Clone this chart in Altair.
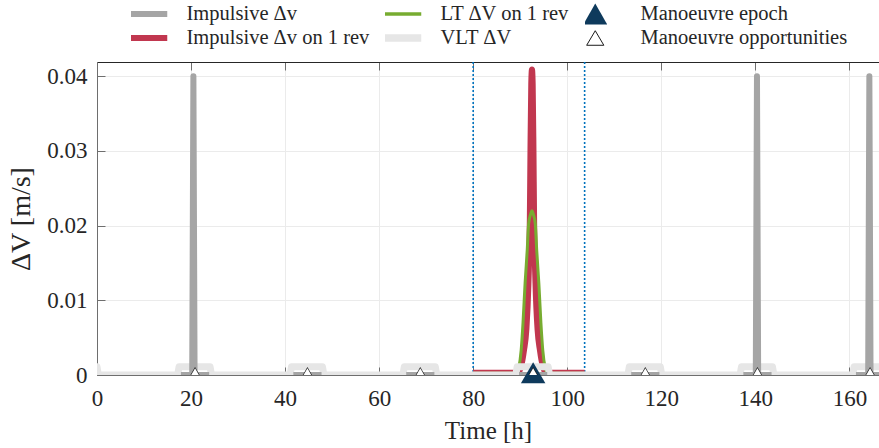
import altair as alt
import pandas as pd

# ---------------- data ----------------
series_names = ["Impulsive Δv", "Impulsive Δv on 1 rev", "LT ΔV on 1 rev", "VLT ΔV",
                "Manoeuvre epoch", "Manoeuvre opportunities"]
series_colors = ["#A5A5A5", "#C1374F", "#77AC30", "#E6E6E6", "#0E3A5C", "#FFFFFF"]

x_ticks = [0, 20, 40, 60, 80, 100, 120, 140, 160]
y_ticks = [0, 0.01, 0.02, 0.03, 0.04]

opp_t = [20.85, 44.75, 68.75, 92.75, 116.6, 140.45, 164.4]
opp_v = [0.0003, 0.0003, 0.0003, 0.0003, 0.0003, 0.0003, 0.0003]
epoch_t = [92.75]
epoch_v = [0.0003]

window_t = [80.0, 103.7]

vlt_t = [0.0, 0.3,
         17.15, 17.45, 24.05, 24.35,
         41.05, 41.35, 47.95, 48.25,
         65.05, 65.35, 71.95, 72.25,
         89.05, 89.35, 95.95, 96.25,
         112.9, 113.2, 119.8, 120.1,
         136.75, 137.05, 143.65, 143.95,
         160.7, 161.0, 166.3]
vlt_v = [0.0011, 0.0,
         0.0, 0.0011, 0.0011, 0.0,
         0.0, 0.0011, 0.0011, 0.0,
         0.0, 0.0011, 0.0011, 0.0,
         0.0, 0.0011, 0.0011, 0.0,
         0.0, 0.0011, 0.0011, 0.0,
         0.0, 0.0011, 0.0011, 0.0,
         0.0, 0.0011, 0.0011]

imp_seg = [1, 1, 1, 1, 1, 2, 2, 3, 3, 4, 4, 5, 5, 6, 6, 6, 6, 6, 7, 7, 7, 7, 7]
imp_t = [17.85, 20.25, 20.5, 20.75, 23.85,
         41.75, 47.75,
         65.75, 71.75,
         89.75, 95.75,
         113.6, 119.6,
         137.45, 140.1, 140.35, 140.6, 143.45,
         161.4, 164.0, 164.25, 164.5, 167.4]
imp_v = [0.0, 0.0, 0.0400, 0.0, 0.0,
         0.0, 0.0,
         0.0, 0.0,
         0.0, 0.0,
         0.0, 0.0,
         0.0, 0.0, 0.0400, 0.0, 0.0,
         0.0, 0.0, 0.0400, 0.0, 0.0]

red_t = [80.0, 86.0, 89.5, 90.2, 90.8, 91.3, 91.75, 92.05, 92.18, 92.35, 92.5,
         92.65, 92.82, 92.95, 93.25, 93.7, 94.2, 94.8, 95.5, 99.0, 103.7]
red_v = [0.0003, 0.0003, 0.0003, 0.0012, 0.0033, 0.006, 0.0123, 0.021, 0.030, 0.039, 0.0409,
         0.039, 0.030, 0.021, 0.0123, 0.006, 0.0033, 0.0012, 0.0003, 0.0003, 0.0003]

green_t = [80.0, 86.0, 89.2, 89.7, 90.2, 90.6, 91.04, 91.5, 91.8, 92.2, 92.5,
           92.8, 93.2, 93.5, 93.96, 94.4, 94.8, 95.3, 95.8, 99.0, 103.7]
green_v = [0.00025, 0.00025, 0.00025, 0.001, 0.0033, 0.007, 0.0123, 0.0168, 0.0203, 0.0215, 0.022,
           0.0215, 0.0203, 0.0168, 0.0123, 0.007, 0.0033, 0.001, 0.00025, 0.00025, 0.00025]

# ---------------- tables ----------------
df_vlt = pd.DataFrame({"t": vlt_t, "v": vlt_v})
df_imp = pd.DataFrame({"t": imp_t, "v": imp_v, "seg": imp_seg})
df_red = pd.DataFrame({"t": red_t, "v": red_v})
df_green = pd.DataFrame({"t": green_t, "v": green_v})
df_opp = pd.DataFrame({"t": opp_t, "v": opp_v, "series": series_names[5]})
df_epoch = pd.DataFrame({"t": epoch_t, "v": epoch_v, "series": series_names[4]})
df_win = pd.DataFrame({"t": window_t})

FONT = "Liberation Serif"
TXT = "#262626"
NEG_TICK = {"expr": "-8"}

x_scale = alt.Scale(domain=[0, 166.3], nice=False, zero=False)
y_scale = alt.Scale(domain=[0, 0.0419], nice=False, zero=False)

x_axis = alt.Axis(values=x_ticks, title="Time [h]", grid=True, format="d", labelFlush=False,
                  tickSize=NEG_TICK, labelPadding=20, titlePadding=8,
                  domain=True, labelFontSize=23, titleFontSize=25)
y_axis = alt.Axis(values=y_ticks, title="ΔV [m/s]", grid=True, labelFlush=False,
                  labelExpr="datum.value == 0 ? '0' : format(datum.value, '.2f')",
                  tickSize=NEG_TICK, labelPadding=18, titlePadding=11,
                  domain=True, labelFontSize=23, titleFontSize=28)

x_enc = alt.X("t:Q", scale=x_scale, axis=x_axis)
y_enc = alt.Y("v:Q", scale=y_scale, axis=y_axis)


def ternary(mapping, default):
    expr = default
    for name, val in reversed(mapping):
        expr = f"datum.value == '{name}' ? {val} : ({expr})"
    return expr


# legend symbols: lines for the curves, triangles (with a full-width bounding box) for markers
tri_big = "'M-1,0M1,0M0,-0.4L-0.46,0.4L0.46,0.4Z'"
tri_small = "'M-1,0M1,0M0,-0.28L-0.33,0.28L0.33,0.28Z'"
shape_expr = ternary([(series_names[4], tri_big), (series_names[5], tri_small)], "'stroke'")
sw_expr = ternary([(series_names[0], "6"), (series_names[1], "6"), (series_names[2], "3.5"),
                   (series_names[3], "7.5"), (series_names[4], "0"), (series_names[5], "1")], "2")
stroke_expr = ternary([(n, f"'{c}'") for n, c in zip(series_names, series_colors)
                       if n != series_names[5]] + [(series_names[5], "'#1a1a1a'")], "'black'")

legend = alt.Legend(
    orient="none", legendX=34, legendY=-60, columns=3, columnPadding=15, rowPadding=-9,
    title=None, labelFont=FONT, labelFontSize=20.5, labelColor=TXT, labelLimit=400,
    labelOffset=35, clipHeight=24, padding=0, symbolOpacity=1, symbolSize=2704,
    symbolType={"expr": shape_expr},
    symbolStrokeWidth={"expr": sw_expr},
    symbolStrokeColor={"expr": stroke_expr},
)

color_enc = alt.Color("series:N", scale=alt.Scale(domain=series_names, range=series_colors),
                      legend=legend)

rules = alt.Chart(df_win).mark_rule(color="#0072BD", strokeWidth=1.6, strokeDash=[2, 2]).encode(
    x=x_enc)

red = alt.Chart(df_red).mark_line(color=series_colors[1], strokeWidth=6, interpolate="monotone",
                                  strokeJoin="round", clip=True).encode(x=x_enc, y=y_enc)
green = alt.Chart(df_green).mark_line(color=series_colors[2], strokeWidth=3,
                                      interpolate="monotone", strokeJoin="round",
                                      clip=True).encode(x=x_enc, y=y_enc)
vlt = alt.Chart(df_vlt).mark_line(color=series_colors[3], strokeWidth=7, strokeJoin="round",
                                  strokeCap="round", clip=True).encode(x=x_enc, y=y_enc)
imp = alt.Chart(df_imp).mark_line(color=series_colors[0], strokeWidth=6, strokeJoin="round",
                                  clip=True).encode(x=x_enc, y=y_enc, detail="seg:N")
epoch = alt.Chart(df_epoch).mark_point(shape="triangle-up", filled=True, size=600,
                                       opacity=1).encode(x=x_enc, y=y_enc, color=color_enc)
opps_edge = alt.Chart(df_opp).mark_point(shape="triangle-up", filled=True, color="#1a1a1a",
                                         size=175, opacity=1, clip=True).encode(x=x_enc, y=y_enc)
opps = alt.Chart(df_opp).mark_point(shape="triangle-up", filled=True, size=105, opacity=1,
                                    clip=True).encode(x=x_enc, y=y_enc, color=color_enc)

main = alt.layer(rules, red, green, vlt, imp, epoch, opps_edge, opps)

frame = alt.Chart(df_win).mark_point(opacity=0).encode(
    x=alt.X("t:Q", scale=x_scale,
            axis=alt.Axis(orient="top", values=x_ticks, labels=False, title=None, grid=False,
                          tickSize=NEG_TICK, domainColor="#262626")),
)

chart = alt.layer(main, frame).resolve_axis(x="independent").properties(
    width=782, height=313,
    padding={"left": 97, "top": 62, "right": 0, "bottom": 73},
    autosize=alt.AutoSizeParams(type="none"),
    background="white",
).configure_view(stroke=None).configure_axis(
    labelFont=FONT, titleFont=FONT, labelColor=TXT, titleColor=TXT,
    titleFontWeight="normal", domainColor="#6E6E6E", tickColor="#6E6E6E",
    gridColor="#EBEBEB", gridWidth=1, domainWidth=1, tickWidth=1,
)

chart.save("out.html", embed_options={"renderer": "svg", "actions": False})
